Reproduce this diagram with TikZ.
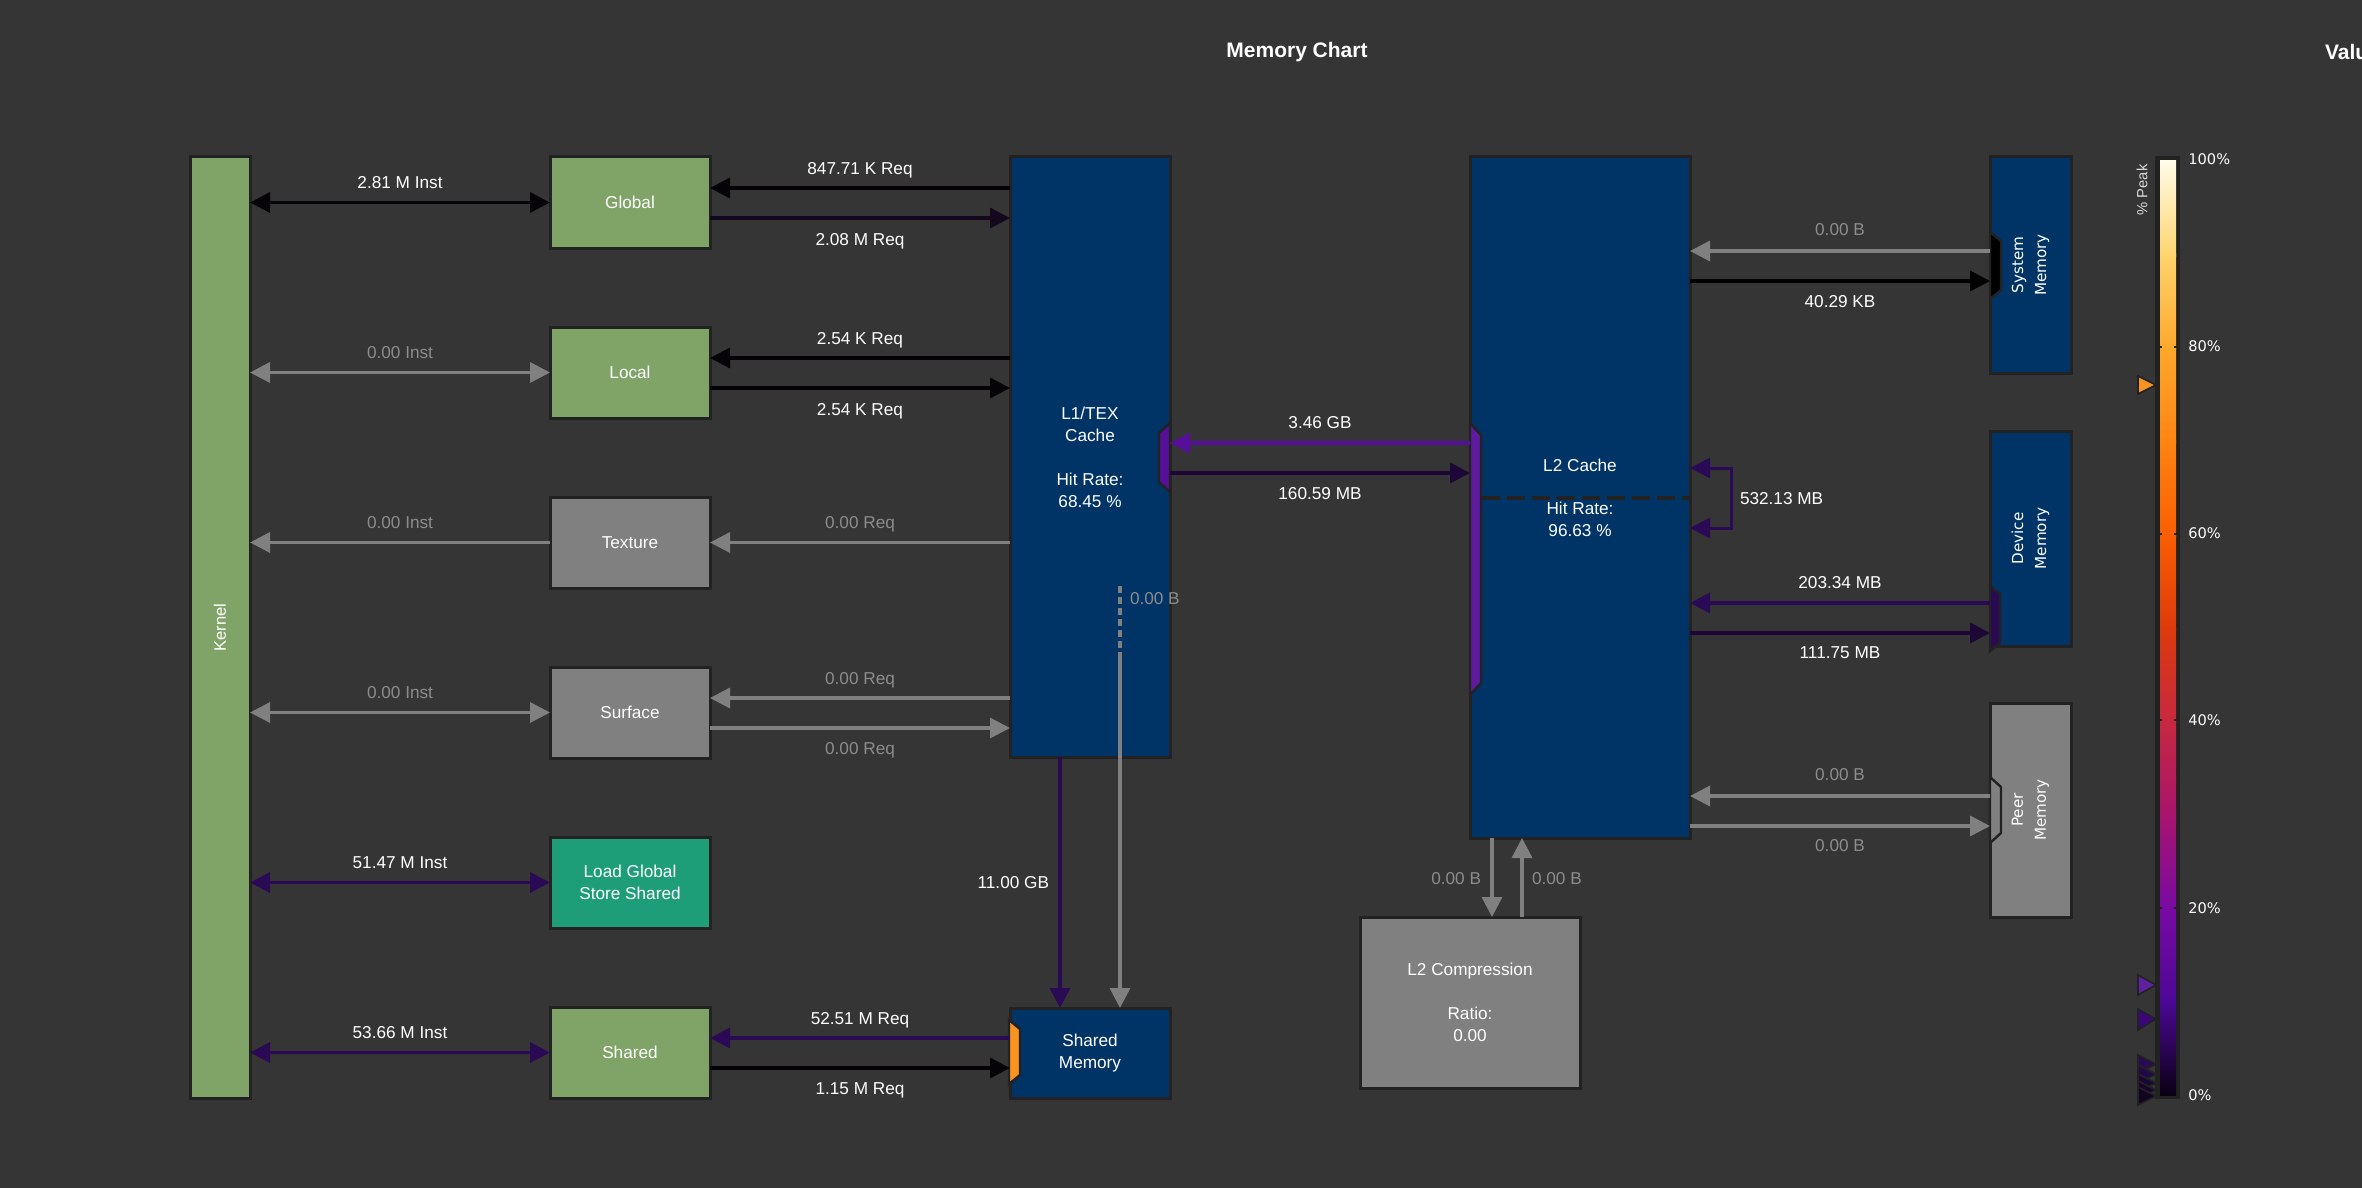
\documentclass[tikz,border=0pt]{standalone}
\usepackage{fontspec}
\setmainfont{Liberation Sans}
\newfontfamily\vfont{DejaVu Sans}
\usetikzlibrary{arrows.meta}
\definecolor{bg}{HTML}{353535}
\definecolor{bord}{HTML}{222222}
\definecolor{kgreen}{HTML}{80A468}
\definecolor{kgray}{HTML}{808080}
\definecolor{kteal}{HTML}{1E9E78}
\definecolor{knavy}{HTML}{003366}
\definecolor{lblgray}{HTML}{8C8C8C}
\definecolor{cblack}{HTML}{060308}
\definecolor{cdark}{HTML}{14081F}
\definecolor{cdp}{HTML}{2A0A55}
\definecolor{cpur}{HTML}{560F99}
\definecolor{cmid}{HTML}{1C0736}
\definecolor{corange}{HTML}{F7931E}
\definecolor{g100}{HTML}{FFFCE8}
\definecolor{g90}{HTML}{FFD46E}
\definecolor{g80}{HTML}{FFA82C}
\definecolor{g70}{HTML}{FF8412}
\definecolor{g60}{HTML}{FA5E02}
\definecolor{g50}{HTML}{DC3A0C}
\definecolor{g40}{HTML}{C8283F}
\definecolor{g30}{HTML}{A8146E}
\definecolor{g20}{HTML}{780AA4}
\definecolor{g10}{HTML}{4C0896}
\definecolor{g0}{HTML}{0A0014}
\begin{document}
\begin{tikzpicture}[x=0.5pt,y=-0.5pt,
  font=\fontsize{8.6}{11}\selectfont,
  box/.style={draw=bord, line width=1.5pt, inner sep=0pt, outer sep=0pt, text=white, align=center},
  lbl/.style={inner sep=0pt, outer sep=0pt, text height=6.2pt, text depth=0pt, text=white},
  glbl/.style={lbl, text=lblgray},
  arr/.style={line width=1.7pt, -{Triangle[length=10pt,width=10pt]}},
  darr/.style={line width=1.7pt, {Triangle[length=10pt,width=10pt]}-{Triangle[length=10pt,width=10pt]}},
  port/.style={draw=bord, line width=1.2pt, line join=miter},
  vtext/.style={rotate=90, text=white, align=center, font=\vfont\fontsize{7.6}{11.5}\selectfont},
  tickmk/.style={draw=bord, line width=1pt},
  cblbl/.style={anchor=west, inner sep=0pt, text=white, font=\vfont\fontsize{7.3}{9}\selectfont},
  pkmark/.style={draw=bord, line width=0.8pt, line join=miter}
]
\useasboundingbox (0,0) rectangle (2362,1188);
\clip (0,0) rectangle (2362,1188);
\fill[bg] (0,0) rectangle (2362,1188);

% title
\node[font=\bfseries\fontsize{10.5}{12}\selectfont, text=white] (title) at (1297,52) {Memory Chart};
\node[anchor=west, font=\bfseries\fontsize{10.5}{12}\selectfont, text=white] (value) at (2318,52) {Value};

% kernel and left boxes
\node[box, fill=kgreen, minimum width=30pt, minimum height=470.5pt] (kernel) at (220,627.5) {};
\node[rotate=90, text=white, font=\fontsize{8.3}{10}\selectfont] (kernelt) at (kernel.center) {Kernel};

\node[box, fill=kgreen, minimum width=80pt, minimum height=45.5pt] (global) at (630,202.5) {Global};
\node[box, fill=kgreen, minimum width=80pt, minimum height=45.5pt] (local) at (630,372.5) {Local};
\node[box, fill=kgray, minimum width=80pt, minimum height=45.5pt] (texture) at (630,542.5) {Texture};
\node[box, fill=kgray, minimum width=80pt, minimum height=45.5pt] (surface) at (630,712.5) {Surface};
\node[box, fill=kteal, minimum width=80pt, minimum height=45.5pt] (lgss) at (630,882.5) {Load Global\\Store Shared};
\node[box, fill=kgreen, minimum width=80pt, minimum height=45.5pt] (shared) at (630,1052.5) {Shared};

% L1 and shared memory
\node[box, fill=knavy, minimum width=80pt, minimum height=300pt] (l1) at (1090,457) {L1/TEX\\Cache\\[11pt]Hit Rate:\\68.45 \%};
\node[box, fill=knavy, minimum width=80pt, minimum height=45pt] (smem) at (1090,1053) {Shared\\Memory};

% L2, compression
\node[box, fill=knavy, minimum width=110pt, minimum height=340.5pt] (l2) at (1580,497.5) {};
\node[text=white, align=center, inner sep=0pt] (l2t) at (1580,465) {L2 Cache};
\node[text=white, align=center, inner sep=0pt] (l2h) at (1580,519) {Hit Rate:\\96.63 \%};
\node[box, fill=kgray, minimum width=110pt, minimum height=85.5pt] (l2c) at (1470,1002.5) {L2 Compression\\[11pt]Ratio:\\0.00};

% memories
\node[box, fill=knavy, minimum width=40.5pt, minimum height=108pt] (sysm) at (2030.5,265) {};
\node[box, fill=knavy, minimum width=40.5pt, minimum height=107.5pt] (devm) at (2030.5,538.5) {};
\node[box, fill=kgray, minimum width=40.5pt, minimum height=107pt] (peerm) at (2030.5,810) {};
\node[vtext] (sysmt) at (sysm.center) {System\\Memory};
\node[vtext] (devmt) at (devm.center) {Device\\Memory};
\node[vtext] (peermt) at (peerm.center) {Peer\\Memory};

% L2 dashed split line
\coordinate (dl) at (1482,498);
\draw[bord, line width=1.6pt, dash pattern=on 9pt off 3.5pt] (dl) -- (l2.east |- dl);

% ports
\filldraw[port, fill=cpur] (1170,423) -- (1159,433) -- (1159,482) -- (1170,492) -- cycle;
\filldraw[port, fill=cpur!95!white] (1470,423) -- (1481,435) -- (1481,683) -- (1470,695) -- cycle;
\filldraw[port, fill=black] (1990,232) -- (2001,241) -- (2001,290) -- (1990,299) -- cycle;
\filldraw[port, fill=cdp] (1990,586) -- (2000,594) -- (2000,643) -- (1990,651) -- cycle;
\filldraw[port, fill=kgray] (1990,777) -- (2001,787) -- (2001,833) -- (1990,843) -- cycle;
\filldraw[port, fill=corange] (1009,1020) -- (1020,1029) -- (1020,1075) -- (1009,1084) -- cycle;

% kernel <-> units
\draw[darr, cblack] (kernel.east |- global.west) -- (global.west);
\draw[darr, kgray] (kernel.east |- local.west) -- (local.west);
\draw[arr, kgray] (texture.west) -- (kernel.east |- texture.west);
\draw[darr, kgray] (kernel.east |- surface.west) -- (surface.west);
\draw[darr, cdp] (kernel.east |- lgss.west) -- (lgss.west);
\draw[darr, cdp] (kernel.east |- shared.west) -- (shared.west);
\node[lbl] (k1) at (400,182) {2.81 M Inst};
\node[glbl] (k2) at (400,352) {0.00 Inst};
\node[glbl] (k3) at (400,522) {0.00 Inst};
\node[glbl] (k4) at (400,692) {0.00 Inst};
\node[lbl] (k5) at (400,862) {51.47 M Inst};
\node[lbl] (k6) at (400,1032) {53.66 M Inst};

% units <-> L1
\draw[arr, cblack] (l1.west |- 0,188) -- (global.east |- 0,188);
\draw[arr, cdark] (global.east |- 0,218) -- (l1.west |- 0,218);
\draw[arr, cblack] (l1.west |- 0,358) -- (local.east |- 0,358);
\draw[arr, cblack] (local.east |- 0,388) -- (l1.west |- 0,388);
\draw[arr, kgray] (l1.west |- texture.east) -- (texture.east);
\draw[arr, kgray] (l1.west |- 0,698) -- (surface.east |- 0,698);
\draw[arr, kgray] (surface.east |- 0,728) -- (l1.west |- 0,728);
\draw[arr, cdp] (smem.west |- 0,1038) -- (shared.east |- 0,1038);
\draw[arr, cblack] (shared.east |- 0,1068) -- (smem.west |- 0,1068);
\node[lbl] (r1) at (860,168) {847.71 K Req};
\node[lbl] (r2) at (860,239) {2.08 M Req};
\node[lbl] (r3) at (860,338) {2.54 K Req};
\node[lbl] (r4) at (860,409) {2.54 K Req};
\node[glbl] (r5) at (860,522) {0.00 Req};
\node[glbl] (r6) at (860,678) {0.00 Req};
\node[glbl] (r7) at (860,748) {0.00 Req};
\node[lbl] (r8) at (860,1018) {52.51 M Req};
\node[lbl] (r9) at (860,1088) {1.15 M Req};

% L1 -> shared memory
\draw[arr, cdp] (l1.south -| 1060,0) -- (smem.north -| 1060,0);
\coordinate (gs) at (1120,586);
\coordinate (gm) at (1120,657);
\draw[kgray, line width=1.7pt, dash pattern=on 3.5pt off 2pt] (gs) -- (gm);
\draw[arr, kgray] (gm) -- (smem.north -| gm);
\node[lbl, anchor=east] (s1) at (1049,882) {11.00 GB};
\node[glbl, anchor=west] (s2) at (1130,598) {0.00 B};

% L1 <-> L2
\draw[arr, cpur] (l2.west |- 0,443) -- (l1.east |- 0,443);
\draw[arr, cmid] (l1.east |- 0,473) -- (l2.west |- 0,473);
\node[lbl] (m1) at (1320,422) {3.46 GB};
\node[lbl] (m2) at (1320,493) {160.59 MB};

% L2 self loop
\coordinate (lp1) at (1731,468);
\coordinate (lp2) at (1731,528);
\draw[darr, cdp, line width=1.5pt] (l2.east |- lp1) -- (lp1) -- (lp2) -- (l2.east |- lp2);
\node[lbl, anchor=west] (m3) at (1740,498) {532.13 MB};

% L2 <-> memories
\draw[arr, kgray] (sysm.west |- 0,251) -- (l2.east |- 0,251);
\draw[arr, black] (l2.east |- 0,281) -- (sysm.west |- 0,281);
\draw[arr, cdp] (devm.west |- 0,603) -- (l2.east |- 0,603);
\draw[arr, cmid] (l2.east |- 0,633) -- (devm.west |- 0,633);
\draw[arr, kgray] (peerm.west |- 0,796) -- (l2.east |- 0,796);
\draw[arr, kgray] (l2.east |- 0,826) -- (peerm.west |- 0,826);
\node[glbl] (n1) at (1840,229) {0.00 B};
\node[lbl] (n2) at (1840,301) {40.29 KB};
\node[lbl] (n3) at (1840,582) {203.34 MB};
\node[lbl] (n4) at (1840,652) {111.75 MB};
\node[glbl] (n5) at (1840,774) {0.00 B};
\node[glbl] (n6) at (1840,845) {0.00 B};

% L2 <-> compression
\draw[arr, kgray] (l2.south -| 1492,0) -- (l2c.north -| 1492,0);
\draw[arr, kgray] (l2c.north -| 1522,0) -- (l2.south -| 1522,0);
\node[glbl, anchor=east] (c1) at (1481,878) {0.00 B};
\node[glbl, anchor=west] (c2) at (1532,878) {0.00 B};

% colour bar
\fill[bord] (2155,156) rectangle (2180,1099);
\shade[top color=g100, bottom color=g90] (2160,161) rectangle (2176,256);
\shade[top color=g90, bottom color=g80] (2160,253) rectangle (2176,349);
\shade[top color=g80, bottom color=g70] (2160,347) rectangle (2176,443);
\shade[top color=g70, bottom color=g60] (2160,440) rectangle (2176,536);
\shade[top color=g60, bottom color=g50] (2160,534) rectangle (2176,630);
\shade[top color=g50, bottom color=g40] (2160,627) rectangle (2176,722);
\shade[top color=g40, bottom color=g30] (2160,720) rectangle (2176,816);
\shade[top color=g30, bottom color=g20] (2160,814) rectangle (2176,910);
\shade[top color=g20, bottom color=g10] (2160,908) rectangle (2176,1003);
\shade[top color=g10, bottom color=g0] (2160,1001) rectangle (2176,1095);
\foreach \yy in {347,534,720,908} {
  \draw[tickmk] (2156,\yy) -- (2162,\yy);
  \draw[tickmk] (2174,\yy) -- (2180,\yy);
}
\node[cblbl] (p100) at (2188,159) {100\%};
\node[cblbl] (p80) at (2188,346) {80\%};
\node[cblbl] (p60) at (2188,533) {60\%};
\node[cblbl] (p40) at (2188,720) {40\%};
\node[cblbl] (p20) at (2188,908) {20\%};
\node[cblbl] (p0) at (2188,1095) {0\%};
\node[rotate=90, text=white!85!black, font=\fontsize{7.4}{9}\selectfont, inner sep=0pt] (peak) at (2142,190) {\% Peak};

% markers
\filldraw[pkmark, fill=corange] (2138,376) -- (2156,385) -- (2138,394) -- cycle;
\filldraw[pkmark, fill=g10!90!white] (2138,975) -- (2156,985) -- (2138,995) -- cycle;
\filldraw[pkmark, fill=g10!80!black] (2138,1009) -- (2156,1019) -- (2138,1030) -- cycle;
\filldraw[pkmark, fill=cdp] (2138,1055) -- (2156,1064) -- (2138,1073) -- cycle;
\filldraw[pkmark, fill=cdp!80!black] (2138,1065) -- (2156,1074) -- (2138,1083) -- cycle;
\filldraw[pkmark, fill=cdp!60!black] (2138,1074) -- (2156,1083) -- (2138,1092) -- cycle;
\filldraw[pkmark, fill=cdp!50!black] (2138,1081) -- (2156,1090) -- (2138,1099) -- cycle;
\filldraw[pkmark, fill=cdp!40!black] (2138,1087) -- (2156,1096) -- (2138,1105) -- cycle;
\end{tikzpicture}
\end{document}
